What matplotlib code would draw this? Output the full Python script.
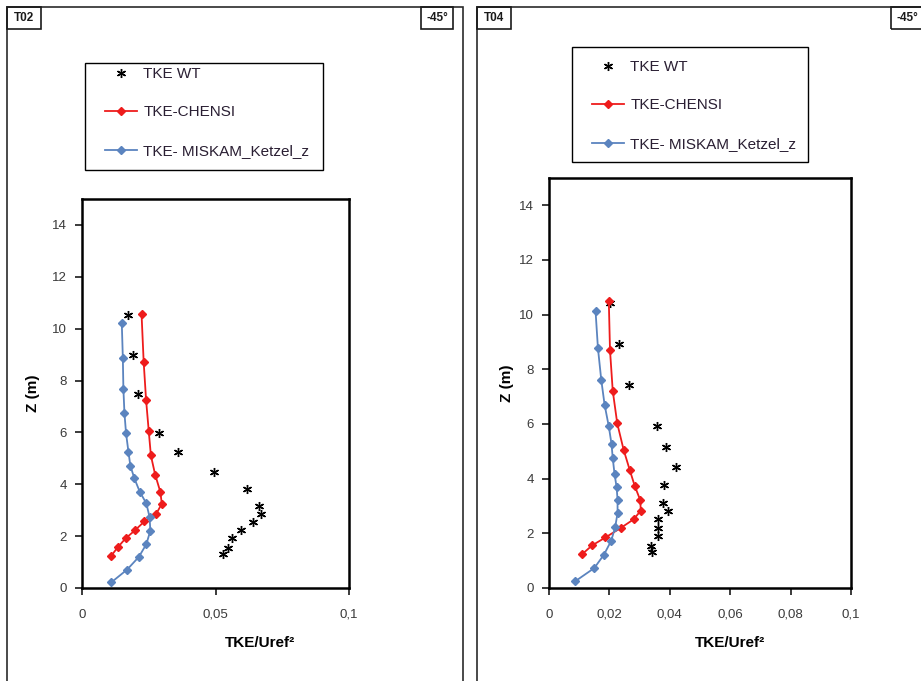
import matplotlib
matplotlib.use("Agg")
import matplotlib.pyplot as plt
from matplotlib.patches import Rectangle
from matplotlib.ticker import FixedLocator, FixedFormatter

plt.rcParams['font.family'] = ['Liberation Sans', 'DejaVu Sans']

# ---- data ----
# T02
t02_wt_x = [0.0174, 0.0191, 0.0211, 0.0289, 0.0359, 0.0493, 0.0618, 0.0663, 0.0671, 0.0641, 0.0595, 0.0560, 0.0545, 0.0529]
t02_wt_z = [10.52, 9.0, 7.47, 5.99, 5.25, 4.49, 3.82, 3.16, 2.84, 2.53, 2.22, 1.92, 1.55, 1.32]
t02_chensi_x = [0.0110, 0.0134, 0.0163, 0.0198, 0.0234, 0.0278, 0.0299, 0.0293, 0.0274, 0.0258, 0.0250, 0.0240, 0.0231, 0.0223]
t02_chensi_z = [1.25, 1.57, 1.91, 2.22, 2.57, 2.86, 3.25, 3.72, 4.37, 5.11, 6.05, 7.25, 8.71, 10.57]
t02_miskam_x = [0.0110, 0.0169, 0.0213, 0.0241, 0.0256, 0.0253, 0.0241, 0.0216, 0.0196, 0.0181, 0.0174, 0.0165, 0.0159, 0.0155, 0.0153, 0.0149]
t02_miskam_z = [0.22, 0.71, 1.20, 1.69, 2.21, 2.74, 3.26, 3.72, 4.23, 4.72, 5.25, 5.96, 6.74, 7.68, 8.85, 10.22]

# T04
t04_wt_x = [0.0202, 0.0231, 0.0264, 0.0358, 0.0387, 0.0420, 0.0380, 0.0376, 0.0393, 0.0361, 0.0361, 0.0360, 0.0338, 0.0342]
t04_wt_z = [10.41, 8.93, 7.41, 5.94, 5.16, 4.43, 3.76, 3.11, 2.80, 2.52, 2.20, 1.89, 1.55, 1.32]
t04_chensi_x = [0.0110, 0.0143, 0.0187, 0.0238, 0.0280, 0.0304, 0.0302, 0.0284, 0.0267, 0.0247, 0.0226, 0.0211, 0.0202, 0.0198]
t04_chensi_z = [1.24, 1.56, 1.85, 2.20, 2.51, 2.83, 3.22, 3.73, 4.33, 5.06, 6.02, 7.22, 8.70, 10.51]
t04_miskam_x = [0.0086, 0.0150, 0.0182, 0.0206, 0.0219, 0.0227, 0.0227, 0.0224, 0.0217, 0.0211, 0.0207, 0.0198, 0.0184, 0.0173, 0.0162, 0.0154]
t04_miskam_z = [0.24, 0.73, 1.22, 1.73, 2.22, 2.74, 3.22, 3.68, 4.17, 4.76, 5.27, 5.91, 6.71, 7.62, 8.78, 10.15]

labels = ["TKE WT", "TKE-CHENSI", "TKE- MISKAM_Ketzel_z"]
y_ticks = [0, 2, 4, 6, 8, 10, 12, 14]
t02_xticks = [0, 0.05, 0.1]
t02_xlabels = ["0", "0,05", "0,1"]
t04_xticks = [0, 0.02, 0.04, 0.06, 0.08, 0.1]
t04_xlabels = ["0", "0,02", "0,04", "0,06", "0,08", "0,1"]

W, H = 921, 681
fig = plt.figure(figsize=(W / 100, H / 100), dpi=100)
fig.patch.set_facecolor("white")


def px(x0, y0, x1, y1):
    # pixel box (top-left origin) -> figure fraction rect
    return [x0 / W, 1 - y1 / H, (x1 - x0) / W, (y1 - y0) / H]


def frame(x0, y0, x1, y1, lw=1.2, color="#2b2b2b"):
    r = Rectangle((x0 / W, 1 - y1 / H), (x1 - x0) / W, (y1 - y0) / H,
                  transform=fig.transFigure, fill=False, lw=lw, ec=color, clip_on=False)
    fig.patches.append(r)


def tag(x0, y0, x1, y1, text):
    frame(x0, y0, x1, y1, lw=1.2, color="#1a1a1a")
    fig.text((x0 + x1) / 2 / W, 1 - (y0 + y1) / 2 / H, text, ha="center", va="center",
             fontsize=8.5, fontweight="bold", color="#1a1a1a")


def panel(rect, wt, ch, mk, xticks, xlabels, leg_box, leg_anchor, zlab_x, xlab_pos):
    ax = fig.add_axes(rect)
    ax.plot(wt[0], wt[1], ls="none", marker=(6, 2, 0), ms=6.5, mew=1.0, color="black", label=labels[0])
    ax.plot(ch[0], ch[1], color="#ee1c1c", lw=1.3, marker="D", ms=4.2, label=labels[1])
    ax.plot(mk[0], mk[1], color="#5b84bf", lw=1.3, marker="D", ms=4.2, label=labels[2])
    ax.set_xlim(0, 0.1)
    ax.set_ylim(0, 15)
    ax.xaxis.set_major_locator(FixedLocator(xticks))
    ax.xaxis.set_major_formatter(FixedFormatter(xlabels))
    ax.yaxis.set_major_locator(FixedLocator(y_ticks))
    ax.tick_params(direction="out", length=5, width=1.2, labelsize=9.5, colors="#1a1a1a",
                   labelcolor="#3a3a3a", pad=10)
    ax.tick_params(axis="y", pad=6)
    for s in ax.spines.values():
        s.set_linewidth(1.8)
        s.set_color("black")
    # legend box drawn by hand, legend itself without frame
    frame(*leg_box, lw=1.0, color="black")
    leg = ax.legend(loc="upper left", bbox_to_anchor=(leg_anchor[0] / W, 1 - leg_anchor[1] / H),
                    bbox_transform=fig.transFigure, frameon=False, fontsize=11,
                    labelspacing=1.6, handlelength=2.1, handletextpad=0.4,
                    borderpad=0, borderaxespad=0)
    for t in leg.get_texts():
        t.set_color("#2a1f33")
    cy = H * (1 - (rect[1] + rect[3] / 2))
    fig.text(zlab_x / W, 1 - cy / H, "Z (m)", rotation=90, ha="center",
             va="center", fontsize=11, fontweight="bold")
    fig.text(xlab_pos[0] / W, 1 - xlab_pos[1] / H, "TKE/Uref²", ha="center", va="center",
             fontsize=11, fontweight="bold")
    return ax


# outer panel frames (bottom edge is off the picture)
frame(7, 7, 463, 720)
frame(477, 7, 940, 720)
tag(7, 7, 41, 29, "T02")
tag(421, 7, 453, 29, "-45°")
tag(477, 7, 511, 29, "T04")
tag(891, 7, 923, 29, "-45°")

panel(px(82, 199, 349, 588),
      (t02_wt_x, t02_wt_z), (t02_chensi_x, t02_chensi_z), (t02_miskam_x, t02_miskam_z),
      t02_xticks, t02_xlabels, (85, 63, 323, 170), (105, 67), 33, (260, 643))
panel(px(549, 178, 851, 588),
      (t04_wt_x, t04_wt_z), (t04_chensi_x, t04_chensi_z), (t04_miskam_x, t04_miskam_z),
      t04_xticks, t04_xlabels, (572, 47, 808, 162), (592, 60), 507, (730, 643))

fig.savefig("out.png", dpi=100)
